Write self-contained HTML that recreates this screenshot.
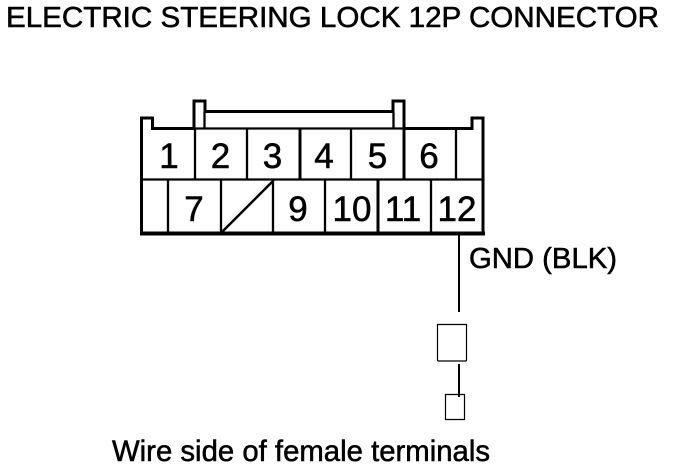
<!DOCTYPE html>
<html><head><meta charset="utf-8"><style>html,body{margin:0;padding:0;background:#fff}svg{display:block}text{font-family:"Liberation Sans",sans-serif;fill:#000;stroke:#000;stroke-width:.55}</style></head>
<body><svg width="688" height="468" viewBox="0 0 688 468" xmlns="http://www.w3.org/2000/svg">
<text x="6" y="27" font-size="29" textLength="653" lengthAdjust="spacingAndGlyphs">ELECTRIC STEERING LOCK 12P CONNECTOR</text>
<g fill="none" stroke="#000">
<path stroke-width="3" d="M141.500 233V118H152.500V128.500H194V101H205V111.500H393V101H404V128.500H472V118H483V233"/>
<path stroke-width="4" d="M140 233.500H485"/>
<path stroke-width="2.300" d="M142 179.500H483M204.500 112V128M393.500 112V128M194 128.500H404M195 128V180M247 128V180M351 128V180M456 128V180M168 180V233M221 180V233M273 180V233M325 180V233M431 180V233"/>
<path stroke-width="3" d="M300 128V180M404 128V180M378 180V233"/>
<path stroke-width="2.500" d="M222 232L273 181"/>
<path stroke-width="2" d="M459 233V312M459 364V397"/>
<path stroke-width="1.200" d="M437.500 324.500H466.500V360Q466.500 361 465.500 361H439Q437.500 361 437.500 360Z"/>
<path stroke-width="1.200" d="M445.500 394.500H464.500V419.500H445.500Z"/>
</g>
<g font-size="35" text-anchor="middle" style="stroke-width:1.200">
<text x="169" y="168">1</text><text x="220.500" y="168">2</text><text x="272.500" y="168">3</text><text x="324" y="168">4</text><text x="377.500" y="168">5</text><text x="429" y="168">6</text>
<text x="194" y="221">7</text><text x="298" y="221">9</text><text x="352" y="221">10</text><text x="403" y="221">11</text><text x="457" y="221">12</text>
</g>
<text x="469" y="268" font-size="29" textLength="148" lengthAdjust="spacingAndGlyphs">GND (BLK)</text>
<text x="112" y="461" font-size="30" textLength="378" lengthAdjust="spacingAndGlyphs">Wire side of female terminals</text>
</svg></body></html>
